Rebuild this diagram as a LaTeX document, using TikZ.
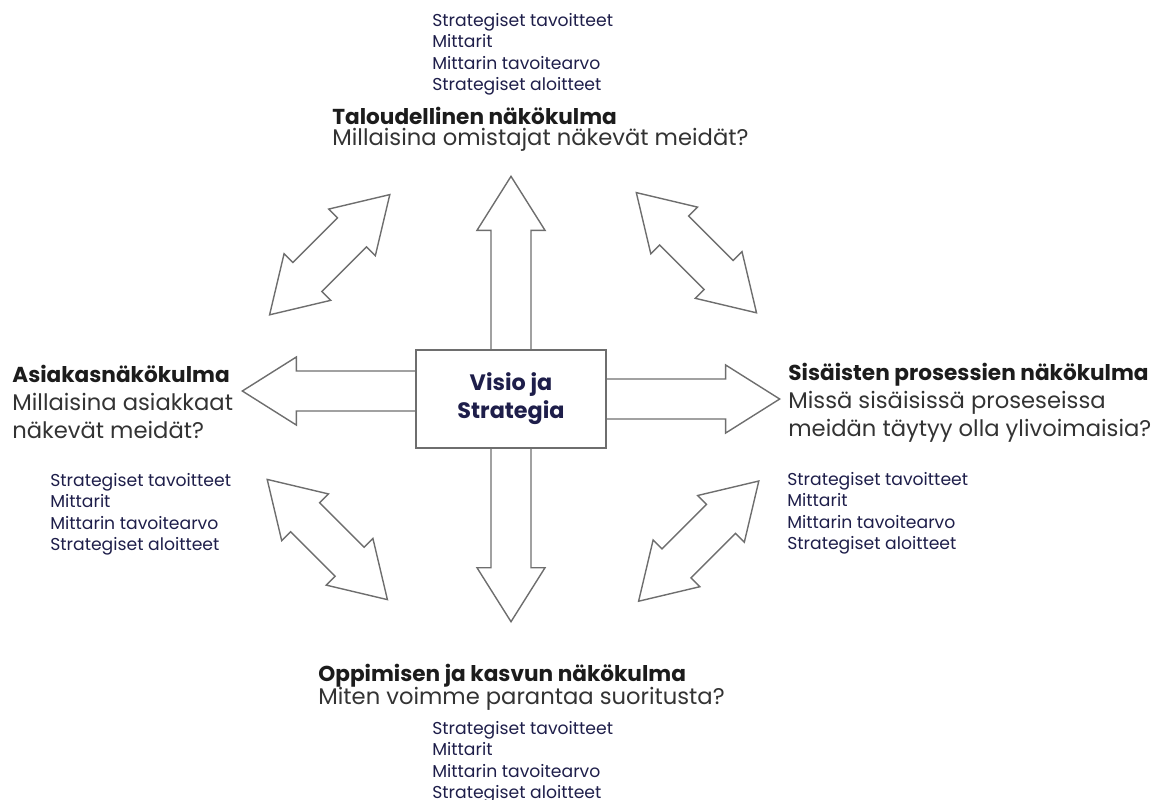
\documentclass[tikz,border=0pt]{standalone}
\usepackage{fontspec}
\setmainfont{Poppins}
\usetikzlibrary{calc}
\definecolor{ink}{HTML}{1C1C1C}
\definecolor{asktext}{HTML}{333333}
\definecolor{navy}{HTML}{1E1E4A}
\definecolor{edge}{HTML}{6E6E6E}

\begin{document}
\begin{tikzpicture}[x=0.02cm, y=-0.02cm,
  outline/.style={draw=edge, line width=0.8pt, line join=miter},
  title/.style={anchor=north west, inner sep=0pt, text=ink,
                font=\fontsize{12.3}{14}\selectfont\bfseries},
  question/.style={anchor=north west, inner sep=0pt, text=asktext, align=left,
                   font=\fontsize{12.9}{16.1}\selectfont},
  items/.style={anchor=north west, inner sep=0pt, text=navy, align=left,
                font=\fontsize{9.8}{12.2}\selectfont},
  blockarrow/.pic={\draw[outline] (0,-20) -- (119,-20) -- (119,-34) -- (173,0)
                   -- (119,34) -- (119,20) -- (0,20);},
  twoway/.pic={\draw[outline] (85,0) -- (31.5,33) -- (31.5,20.5) -- (-31.5,20.5)
               -- (-31.5,33) -- (-85,0) -- (-31.5,-33) -- (-31.5,-20.5)
               -- (31.5,-20.5) -- (31.5,-33) -- cycle;}
]
  \useasboundingbox (0,0) rectangle (1151,799);

  % centre
  \node[outline, fill=white, minimum width=3.8cm, minimum height=1.96cm, inner sep=0pt,
        align=center, text=navy, font=\fontsize{12.7}{16}\selectfont\bfseries]
        (vision) at (511,399) {Visio ja\\Strategia};

  \pic[rotate=90]  at (vision.north) {blockarrow};
  \pic[rotate=-90] at (vision.south) {blockarrow};
  \pic[rotate=180] at ($(vision.west)+(0,-8)$) {blockarrow};
  \pic             at (vision.east) {blockarrow};

  % diagonal links
  \pic[rotate=45]  at (329.7,254.7) {twoway};
  \pic[rotate=-45] at (696.4,252.7) {twoway};
  \pic[rotate=-45] at (327.3,539.5) {twoway};
  \pic[rotate=45]  at (698.7,541.1) {twoway};

  % financial
  \node[items] (finitems) at (432,13)
    {Strategiset tavoitteet\\Mittarit\\Mittarin tavoitearvo\\Strategiset aloitteet};
  \node[title] (fintitle) at (332,107) {Taloudellinen näkökulma};
  \node[question] (finask) at (332,128) {Millaisina omistajat näkevät meidät?};

  % customer
  \node[title] (custtitle) at (12,365) {Asiakasnäkökulma};
  \node[question] (custask) at (12,393) {Millaisina asiakkaat\\näkevät meidät?};
  \node[items] (custitems) at (50,473)
    {Strategiset tavoitteet\\Mittarit\\Mittarin tavoitearvo\\Strategiset aloitteet};

  % internal processes
  \node[title] (proctitle) at (788,363) {Sisäisten prosessien näkökulma};
  \node[question] (procask) at (788,391)
    {Missä sisäisissä proseseissa\\meidän täytyy olla ylivoimaisia?};
  \node[items] (procitems) at (787,472)
    {Strategiset tavoitteet\\Mittarit\\Mittarin tavoitearvo\\Strategiset aloitteet};

  % learning and growth
  \node[title] (learntitle) at (318,664) {Oppimisen ja kasvun näkökulma};
  \node[question] (learnask) at (318,687) {Miten voimme parantaa suoritusta?};
  \node[items] (learnitems) at (432,721)
    {Strategiset tavoitteet\\Mittarit\\Mittarin tavoitearvo\\Strategiset aloitteet};
\end{tikzpicture}
\end{document}
